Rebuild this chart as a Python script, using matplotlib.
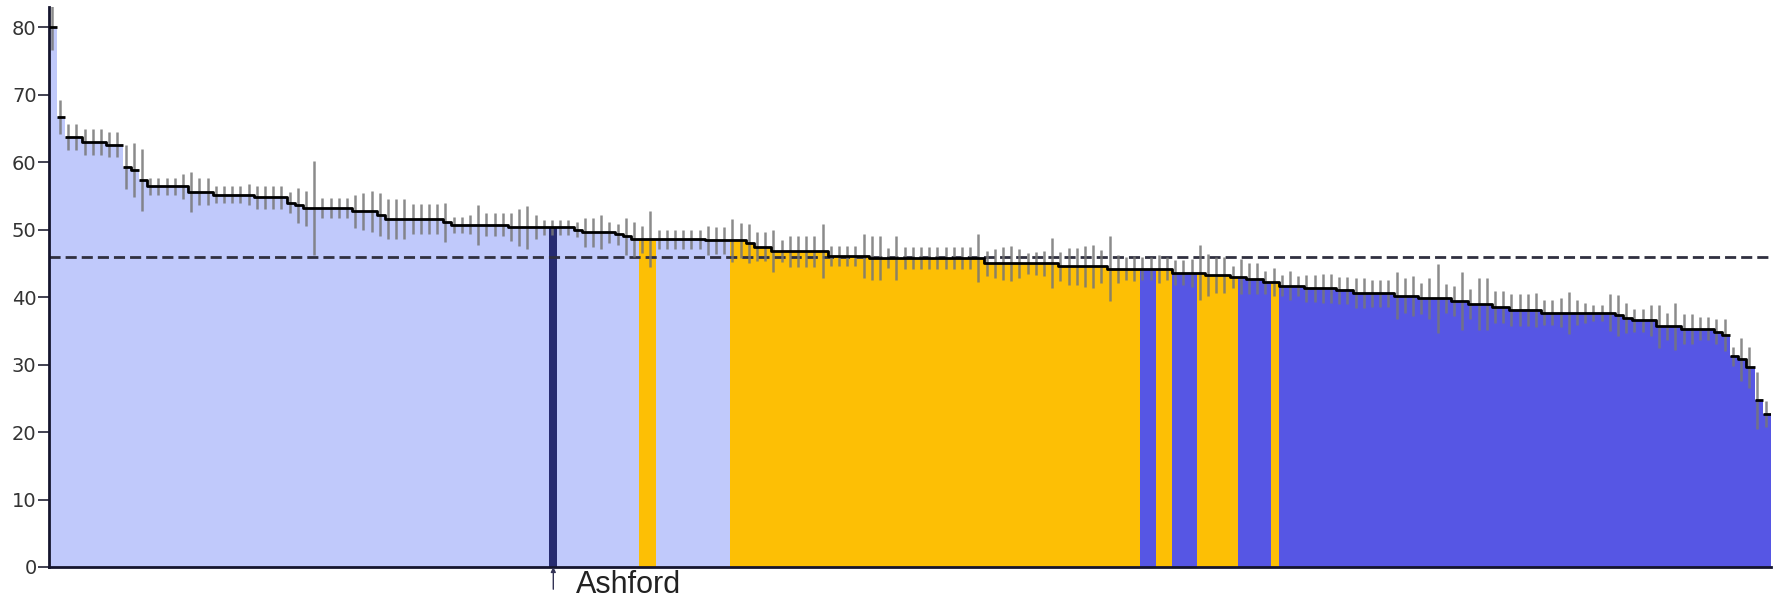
import numpy as np
import matplotlib.pyplot as plt

# percentage per district, sorted high to low
rate = [
    80.0, 66.7, 63.75, 63.75, 63.0, 63.0, 63.0, 62.6, 62.6, 59.3,
    58.9, 57.3, 56.4, 56.4, 56.4, 56.4, 56.4, 55.6, 55.6, 55.6,
    55.2, 55.2, 55.2, 55.2, 55.2, 54.8, 54.8, 54.8, 54.8, 54.0,
    53.6, 53.2, 53.2, 53.2, 53.2, 53.2, 53.2, 52.7, 52.7, 52.7,
    52.2, 51.6, 51.6, 51.6, 51.6, 51.6, 51.6, 51.6, 51.1, 50.7,
    50.7, 50.7, 50.7, 50.7, 50.7, 50.7, 50.35, 50.35, 50.35, 50.35,
    50.35, 50.35, 50.35, 50.35, 50.0, 49.6, 49.6, 49.6, 49.6, 49.3,
    49.0, 48.6, 48.6, 48.6, 48.6, 48.6, 48.6, 48.6, 48.6, 48.6,
    48.4, 48.4, 48.4, 48.4, 48.4, 48.0, 47.5, 47.5, 46.8, 46.8,
    46.8, 46.8, 46.8, 46.8, 46.8, 46.1, 46.1, 46.1, 46.1, 46.1,
    45.8, 45.8, 45.8, 45.8, 45.8, 45.8, 45.8, 45.8, 45.8, 45.8,
    45.8, 45.8, 45.8, 45.8, 45.0, 45.0, 45.0, 45.0, 45.0, 45.0,
    45.0, 45.0, 45.0, 44.55, 44.55, 44.55, 44.55, 44.55, 44.55, 44.2,
    44.2, 44.2, 44.2, 44.2, 44.2, 44.2, 44.2, 43.6, 43.6, 43.6,
    43.6, 43.3, 43.3, 43.3, 43.0, 43.0, 42.7, 42.7, 42.2, 42.2,
    41.7, 41.7, 41.7, 41.3, 41.3, 41.3, 41.3, 41.0, 41.0, 40.6,
    40.6, 40.6, 40.6, 40.6, 40.2, 40.2, 40.2, 39.8, 39.8, 39.8,
    39.8, 39.4, 39.4, 39.0, 39.0, 39.0, 38.5, 38.5, 38.1, 38.1,
    38.1, 38.1, 37.7, 37.7, 37.7, 37.7, 37.7, 37.7, 37.7, 37.7,
    37.7, 37.3, 36.9, 36.55, 36.55, 36.55, 35.65, 35.65, 35.65, 35.3,
    35.3, 35.3, 35.3, 34.9, 34.4, 31.2, 30.8, 29.6, 24.7, 22.7,
]

# half width of the confidence interval
ci = [
    3.4, 2.5, 1.9, 1.9, 1.9, 1.9, 1.9, 1.9, 1.9, 3.3,
    4.0, 4.6, 1.2, 1.2, 1.2, 1.2, 1.9, 3.0, 2.0, 2.0,
    1.25, 1.25, 1.25, 1.25, 1.6, 1.7, 1.7, 1.7, 1.7, 1.6,
    2.6, 2.6, 7.0, 1.5, 1.5, 1.5, 1.5, 2.4, 2.8, 3.0,
    3.2, 3.0, 3.0, 3.0, 2.2, 2.2, 2.2, 2.2, 2.9, 1.2,
    1.2, 1.4, 3.0, 1.7, 1.7, 1.7, 2.1, 2.7, 3.2, 1.8,
    1.1, 1.1, 1.1, 1.1, 1.1, 2.1, 2.1, 2.5, 1.6, 1.6,
    2.8, 2.6, 2.0, 4.2, 1.4, 1.4, 1.4, 1.4, 1.4, 1.4,
    2.2, 2.0, 2.0, 3.2, 2.6, 2.9, 2.2, 2.1, 3.1, 1.6,
    2.3, 2.3, 2.3, 2.3, 4.0, 1.5, 1.5, 1.5, 1.5, 3.2,
    3.2, 3.2, 1.5, 3.3, 1.6, 1.6, 1.6, 1.6, 1.6, 1.6,
    1.6, 1.6, 1.6, 3.5, 1.85, 2.2, 2.5, 2.6, 2.1, 1.6,
    1.7, 1.85, 3.7, 2.2, 2.8, 2.7, 3.1, 3.2, 2.5, 4.8,
    2.1, 1.7, 1.85, 1.7, 1.7, 2.1, 1.7, 1.85, 1.85, 2.1,
    4.1, 3.1, 2.7, 2.7, 1.6, 2.6, 2.3, 2.3, 1.7, 2.1,
    1.6, 2.1, 1.5, 2.0, 2.0, 2.2, 2.1, 2.0, 2.0, 2.2,
    2.2, 2.0, 2.0, 2.0, 3.5, 2.6, 3.0, 2.3, 3.0, 5.1,
    2.2, 2.2, 4.3, 2.2, 3.8, 3.8, 2.4, 2.4, 2.4, 2.4,
    2.4, 2.5, 1.85, 1.85, 2.1, 3.1, 1.85, 1.5, 1.2, 1.2,
    2.7, 3.0, 2.2, 1.7, 1.7, 2.3, 3.2, 2.0, 3.5, 2.2,
    2.2, 1.7, 1.7, 1.85, 2.4, 1.4, 3.2, 3.0, 4.2, 1.9,
]

# H = significantly higher, S = similar, L = significantly lower
status = (
    "HHHHHHHHHH" "HHHHHHHHHH" "HHHHHHHHHH" "HHHHHHHHHH" "HHHHHHHHHH"
    "HHHHHHHHHH" "HHHHHHHHHH" "HHSSHHHHHH" "HHHSSSSSSS" "SSSSSSSSSS"
    "SSSSSSSSSS" "SSSSSSSSSS" "SSSSSSSSSS" "SSSLLSSLLL" "SSSSSLLLLS"
    "LLLLLLLLLL" "LLLLLLLLLL" "LLLLLLLLLL" "LLLLLLLLLL" "LLLLLLLLLL"
    "LLLLLLLLLL"
)

england_avg = 46.0
highlight_name = "Ashford"
highlight_idx = 61

colours = {"H": "#c0c9fb", "S": "#fdbf05", "L": "#5656e4"}
highlight_colour = "#262b70"

n = len(rate)
x = np.arange(n)
bar_cols = [colours[s] for s in status]
bar_cols[highlight_idx] = highlight_colour

fig = plt.figure(figsize=(17.79, 6.02), dpi=100)
ax = fig.add_axes([49 / 1779, 35 / 602, 1722 / 1779, 560 / 602])

# no antialiasing so neighbouring bars butt together without seams
ax.bar(x, rate, width=1.0, align="edge", color=bar_cols,
       linewidth=0, antialiased=False, zorder=1)

ax.axhline(england_avg, color="#303040", lw=2, dashes=(4, 1.8), zorder=2)

ax.vlines(x + 0.35, np.array(rate) - np.array(ci), np.array(rate) + np.array(ci),
          color="#777777", lw=1.8, alpha=0.85, zorder=3)

# bar tops: short flat pieces, joined only where neighbours are close
vals = np.array(rate)
sx, sy = [], []
for i in range(n):
    sx += [i, i + 1]
    sy += [vals[i], vals[i]]
    if i < n - 1 and abs(vals[i] - vals[i + 1]) > 1.2:
        sx.append(np.nan)
        sy.append(np.nan)
ax.plot(sx, sy, color="black", lw=2.0, solid_capstyle="butt", zorder=4)

ax.set_xlim(0, n)
ax.set_ylim(0, 83)
ax.set_xticks([])
ax.set_yticks(np.arange(0, 81, 10))
ax.tick_params(axis="y", length=8, width=1.3, pad=1, labelsize=14,
               labelcolor="#333333", color="#333344")
for side in ["top", "right"]:
    ax.spines[side].set_visible(False)
for side in ["left", "bottom"]:
    ax.spines[side].set_color("#15152e")
    ax.spines[side].set_linewidth(2)

hx = highlight_idx + 0.5
ax.annotate("", xy=(hx, 0), xytext=(hx, -16), xycoords="data",
            textcoords=("data", "offset points"),
            arrowprops=dict(arrowstyle="-|>", color="#333355", lw=1,
                            mutation_scale=7, shrinkA=0, shrinkB=0),
            annotation_clip=False)
ax.annotate(highlight_name, xy=(hx, 0), xytext=(16, -18.5),
            textcoords="offset points", ha="left", va="baseline",
            fontsize=22, family="Liberation Sans", color="#222222",
            annotation_clip=False)

fig.savefig("out.png", dpi=100)
